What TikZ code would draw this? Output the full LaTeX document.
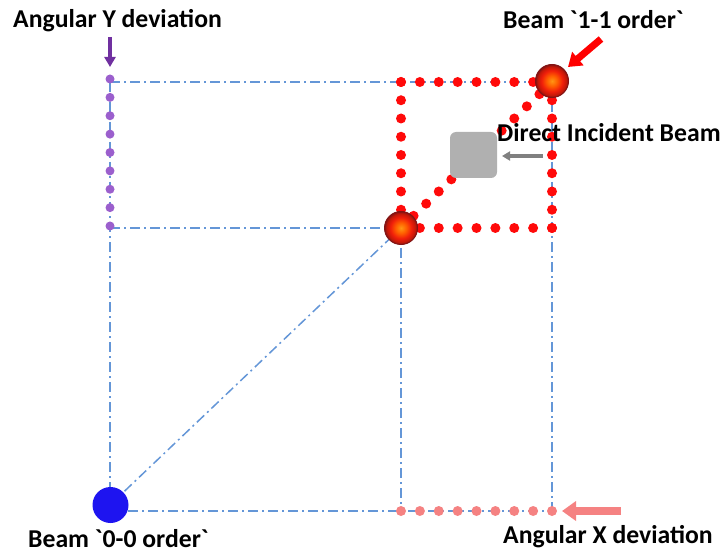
\documentclass[tikz,border=0pt]{standalone}
\usepackage{fontspec}
\newfontfamily\lab{Carlito}[Ligatures=TeXOff]
\usetikzlibrary{arrows.meta}
\definecolor{gridblue}{RGB}{100,150,215}
\definecolor{dotpurple}{RGB}{155,95,205}
\definecolor{arrpurple}{RGB}{112,48,160}
\definecolor{dotred}{RGB}{255,10,10}
\definecolor{dotpink}{RGB}{245,130,130}
\definecolor{boxgray}{RGB}{176,176,176}
\definecolor{arrgray}{RGB}{128,128,128}
\definecolor{beamblue}{RGB}{30,20,240}
\definecolor{bcore}{RGB}{255,150,20}
\definecolor{borange}{RGB}{255,95,0}
\definecolor{bred}{RGB}{240,30,10}
\definecolor{bedge}{RGB}{130,20,20}
\pgfdeclareradialshading{beamshade}{\pgfpoint{0bp}{0bp}}{color(0bp)=(bcore); color(8bp)=(borange); color(16bp)=(bred); color(22bp)=(bred!80!black); color(25bp)=(bedge); color(50bp)=(bedge)}
\tikzset{
  gridline/.style={draw=gridblue, line width=1.5bp, dash pattern=on 10bp off 4bp on 2bp off 4bp},
  label/.style={font=\lab\bfseries\fontsize{25.8}{30}\selectfont, inner sep=0pt, anchor=base west},
  beamspot/.style={circle, minimum size=33bp, inner sep=0pt, shading=beamshade, draw=bedge, line width=1bp}
}
\begin{document}
\begin{tikzpicture}[x=1bp,y=-1bp]
\useasboundingbox (0,0) rectangle (723,554);
% corner coordinates
\coordinate (TL) at (110,82);
\coordinate (ML) at (110,228);
\coordinate (LB) at (110,490);
\coordinate (TR) at (552,82);
\coordinate (BM) at (401,511);
\coordinate (BR) at (552,511);
\coordinate (M) at (401,228);
\coordinate (BZ) at (128,511);
% grid lines
\draw[gridline] (TL) -- (TR);
\draw[gridline] (ML) -- (M);
\draw[gridline] (TL) -- (LB);
\draw[gridline] (M) -- (BM);
\draw[gridline] (TR) -- (BR);
\draw[gridline] (BZ) -- (BR);
\draw[gridline] (110,505) -- (M);
% purple dots (Y deviation)
\foreach \i in {0,...,8} \fill[dotpurple] (110,{79+\i*18.375}) circle (4.5bp);
% pink dots (X deviation)
\foreach \i in {0,...,8} \fill[dotpink] ({401+\i*18.875},511) circle (5bp);
% red dotted square
\foreach \i in {0,...,8} {
  \fill[dotred] ({401+\i*18.875},82) circle (5bp);
  \fill[dotred] ({401+\i*18.875},228) circle (5bp);
  \fill[dotred] (401,{82+\i*18.25}) circle (5bp);
  \fill[dotred] (552,{82+\i*18.25}) circle (5bp);
}
\foreach \i in {1,...,11} \fill[dotred] ({401+\i*151/12},{228-\i*146/12}) circle (5bp);
% direct beam box
\node[fill=boxgray, rounded corners=6bp, minimum width=47bp, minimum height=46bp, inner sep=0pt] (DB) at (473.5,155) {};
% beams
\node[circle, fill=beamblue, minimum size=36bp, inner sep=0pt] (B00) at (110.5,505) {};
\node[beamspot] (B11a) at (401,228) {};
\node[beamspot] (B11) at (552,81) {};
% arrows
\coordinate (PA1) at (110,37);
\coordinate (PA2) at (110,67);
\draw[arrpurple, line width=4.5bp, -{Triangle[length=10bp,width=11bp]}] (PA1) -- (PA2);
\coordinate (RA1) at (601,39);
\coordinate (RA2) at (568,67);
\draw[red, line width=7bp, -{Triangle[length=13bp,width=17bp]}] (RA1) -- (RA2);
\coordinate (GA1) at (543,156);
\coordinate (GA2) at (502,156);
\draw[arrgray, line width=4bp, -{Triangle[length=8bp,width=9bp]}] (GA1) -- (GA2);
\coordinate (KA1) at (621,511);
\coordinate (KA2) at (562,511);
\draw[dotpink, line width=8bp, -{Triangle[length=14bp,width=19bp]}] (KA1) -- (KA2);
% labels
\node[label] (LY) at (13,28) {Angular Y deviation};
\node[label] (L11) at (503,29) {Beam `1-1 order`};
\node[label] (LDB) at (497,142) {Direct Incident Beam};
\node[label] (L00) at (28,547) {Beam `0-0 order`};
\node[label] (LX) at (503,543) {Angular X deviation};
\end{tikzpicture}
\end{document}
